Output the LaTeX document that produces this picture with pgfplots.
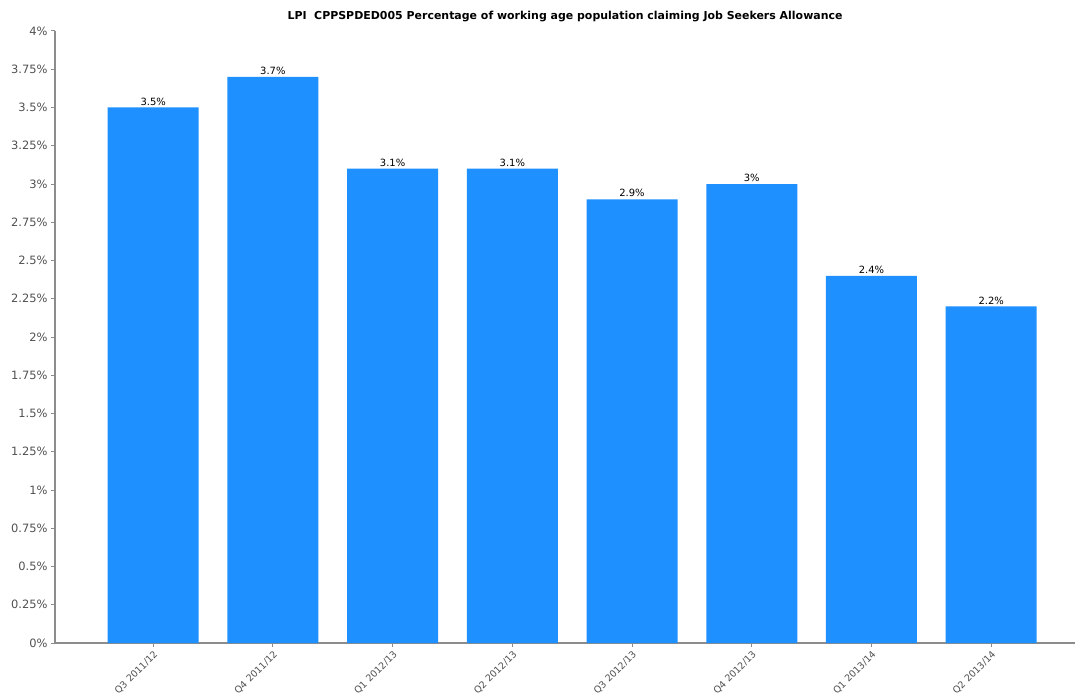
\documentclass[border=0pt]{standalone}
\usepackage{pgfplots}
\pgfplotsset{compat=1.18}
\usepackage{fontspec}
\setmainfont{DejaVu Sans}
\definecolor{barblue}{HTML}{1E90FF}
\definecolor{axgrey}{HTML}{8C8C8C}
\definecolor{tickgrey}{HTML}{505050}
\begin{document}
\begin{tikzpicture}
\begin{scope}[overlay]
\begin{axis}[
  scale only axis,
  width=1020bp, height=612bp,
  xmin=-0.82, xmax=7.7,
  ymin=0, ymax=4,
  axis x line*=bottom, axis y line*=left,
  axis line style={axgrey, line width=1.2bp},
  x axis line style={-}, y axis line style={-},
  ytick={0,0.25,...,4},
  yticklabel={\pgfmathprintnumber{\tick}\%},
  /pgf/number format/assume math mode=true,
  yticklabel style={font=\fontsize{11.5}{13}\selectfont, text=tickgrey},
  xtick={0,...,7},
  xticklabels={Q3 2011/12,Q4 2011/12,Q1 2012/13,Q2 2012/13,Q3 2012/13,Q4 2012/13,Q1 2013/14,Q2 2013/14},
  xticklabel style={font=\fontsize{9.5}{11}\selectfont, text=tickgrey, rotate=45, anchor=north east, inner sep=2bp},
  tick style={axgrey, line width=1bp},
  major tick length=4bp,
  tick align=outside,
  xtick pos=bottom, ytick pos=left,
  title={\bfseries LPI\ \ CPPSPDED005 Percentage of working age population claiming Job Seekers Allowance},
  title style={font=\fontsize{11}{13}\selectfont, at={(0.5,1)}, yshift=0bp, anchor=south},
  ybar, bar width=91bp,
  nodes near coords={\pgfmathprintnumber{\pgfplotspointmeta}\%},
  nodes near coords style={font=\fontsize{10}{12}\selectfont, text=black, /pgf/number format/assume math mode=true, inner sep=2bp},
  clip=false,
]
\addplot[fill=barblue, draw=none] coordinates {
(0,3.5) (1,3.7) (2,3.1) (3,3.1) (4,2.9) (5,3.0) (6,2.4) (7,2.2)};
\end{axis}
\end{scope}
\useasboundingbox ([xshift=-55bp,yshift=-55bp]current axis.south west) rectangle ([xshift=5bp,yshift=31bp]current axis.north east);
\end{tikzpicture}
\end{document}
